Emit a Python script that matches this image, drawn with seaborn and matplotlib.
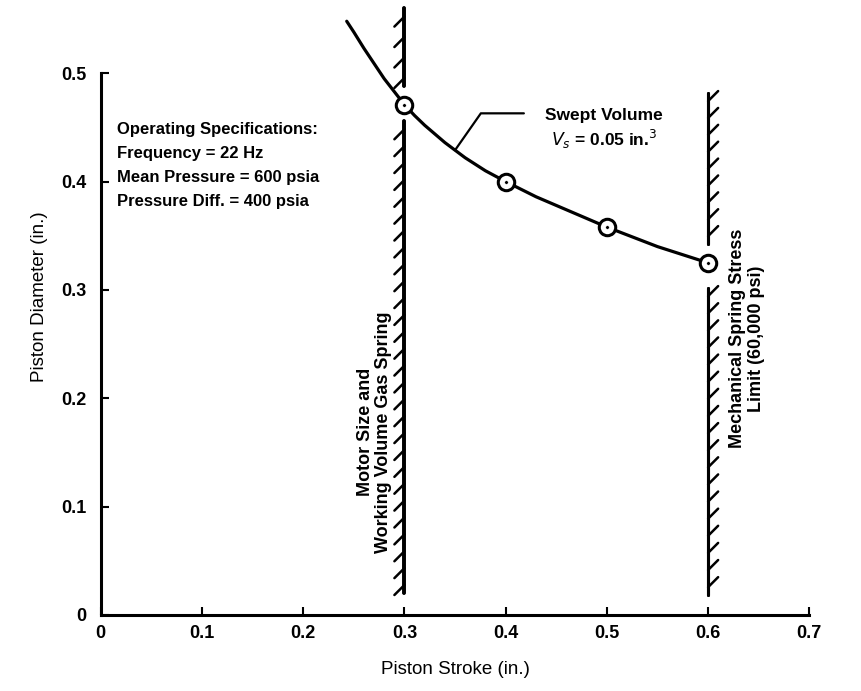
import numpy as np
import pandas as pd
import seaborn as sns
import matplotlib.patheffects as pe
from matplotlib import pyplot as plt

# swept volume curve
stroke = [0.243, 0.25, 0.26, 0.27, 0.28, 0.29, 0.30, 0.31, 0.32, 0.34, 0.36,
          0.38, 0.40, 0.43, 0.46, 0.50, 0.55, 0.60]
diameter = [0.548, 0.538, 0.523, 0.509, 0.495, 0.483, 0.471, 0.461, 0.452,
            0.436, 0.422, 0.410, 0.400, 0.386, 0.374, 0.358, 0.340, 0.325]

# design points (circles)
pt_stroke = [0.3, 0.4, 0.5, 0.6]
pt_diameter = [0.471, 0.400, 0.358, 0.325]

# hatched limit lines
limit_motor = 0.3
motor_segments = [(0.02, 0.456), (0.488, 0.56)]
limit_spring = 0.6
spring_segments = [(0.018, 0.302), (0.342, 0.482)]

x_ticks = [0, 0.1, 0.2, 0.3, 0.4, 0.5, 0.6, 0.7]
x_tick_labels = ['0', '0.1', '0.2', '0.3', '0.4', '0.5', '0.6', '0.7']
y_ticks = [0, 0.1, 0.2, 0.3, 0.4, 0.5]
y_tick_labels = ['0', '0.1', '0.2', '0.3', '0.4', '0.5']

spec_lines = ['Operating Specifications:', 'Frequency = 22 Hz',
              'Mean Pressure = 600 psia', 'Pressure Diff. = 400 psia']

sns.set_style('ticks')
plt.rcParams['font.family'] = ['Liberation Sans', 'DejaVu Sans']
plt.rcParams['text.color'] = 'black'
plt.rcParams['axes.labelcolor'] = 'black'
plt.rcParams['xtick.color'] = 'black'
plt.rcParams['ytick.color'] = 'black'
plt.rcParams['axes.edgecolor'] = 'black'

fig, ax = plt.subplots(1, 1, figsize=(8.61, 6.91), dpi=100)
fig.subplots_adjust(left=0.117, right=0.94, bottom=0.11, top=0.894)

curve = pd.DataFrame({'stroke': stroke, 'diameter': diameter})
sns.lineplot(x='stroke', y='diameter', data=curve, ax=ax, color='black',
             linewidth=2.3, sort=False, clip_on=False, zorder=3)

pts = pd.DataFrame({'stroke': pt_stroke, 'diameter': pt_diameter})
sns.scatterplot(x='stroke', y='diameter', data=pts, ax=ax, s=140, marker='o',
                facecolor='white', edgecolor='black', linewidth=2.2, zorder=4,
                clip_on=False)
sns.scatterplot(x='stroke', y='diameter', data=pts, ax=ax, s=6, color='black',
                zorder=5, clip_on=False)

hatch_kw = dict(spacing=12, length=0.85, linewidth=1.8)
for y0, y1 in motor_segments:
    ax.plot([limit_motor, limit_motor], [y0, y1], color='black', lw=2.6,
            clip_on=False, zorder=2,
            path_effects=[pe.withTickedStroke(angle=135, **hatch_kw), pe.Normal()])
for y0, y1 in spring_segments:
    ax.plot([limit_spring, limit_spring], [y0, y1], color='black', lw=2.2,
            clip_on=False, zorder=2,
            path_effects=[pe.withTickedStroke(angle=-45, **hatch_kw), pe.Normal()])

ax.text(0.2705, 0.169, 'Motor Size and\nWorking Volume Gas Spring', rotation=90,
        ha='center', va='center', fontsize=13, fontweight='bold',
        linespacing=1.1)
ax.text(0.638, 0.255, 'Mechanical Spring Stress\nLimit (60,000 psi)', rotation=90,
        ha='center', va='center', fontsize=13, fontweight='bold',
        linespacing=1.15)

for i, line in enumerate(spec_lines):
    ax.text(0.016, 0.448 - i * 0.0222, line, ha='left', va='center',
            fontsize=12, fontweight='bold')

ax.text(0.497, 0.448, 'Swept Volume\n$V_s$ = 0.05 in.$^3$', ha='center',
        va='center', fontsize=12.5, fontweight='bold', linespacing=1.25)
ax.annotate('', xy=(0.35, 0.429), xytext=(0.418, 0.463),
            arrowprops=dict(arrowstyle='-', color='black', lw=1.6,
                            shrinkA=0, shrinkB=0,
                            connectionstyle='angle,angleA=180,angleB=55,rad=0'))

ax.set_xlim(0, 0.7)
ax.set_ylim(0, 0.5)
ax.set_xticks(x_ticks)
ax.set_xticklabels(x_tick_labels)
ax.set_yticks(y_ticks)
ax.set_yticklabels(y_tick_labels)
ax.tick_params(axis='x', direction='in', length=6, width=1.5, labelsize=13, pad=7)
ax.tick_params(axis='y', direction='in', length=6, width=1.5, labelsize=13, pad=10)
for lab in ax.get_xticklabels() + ax.get_yticklabels():
    lab.set_fontweight('bold')
ax.spines['left'].set_linewidth(2.2)
ax.spines['bottom'].set_linewidth(2.2)
sns.despine(ax=ax)

ax.set_xlabel('Piston Stroke (in.)', fontsize=13.5, labelpad=14)
ax.set_ylabel('Piston Diameter (in.)', fontsize=13.5)
ax.yaxis.set_label_coords(-0.075, 0.587)

fig.savefig('out.png', dpi=100)
